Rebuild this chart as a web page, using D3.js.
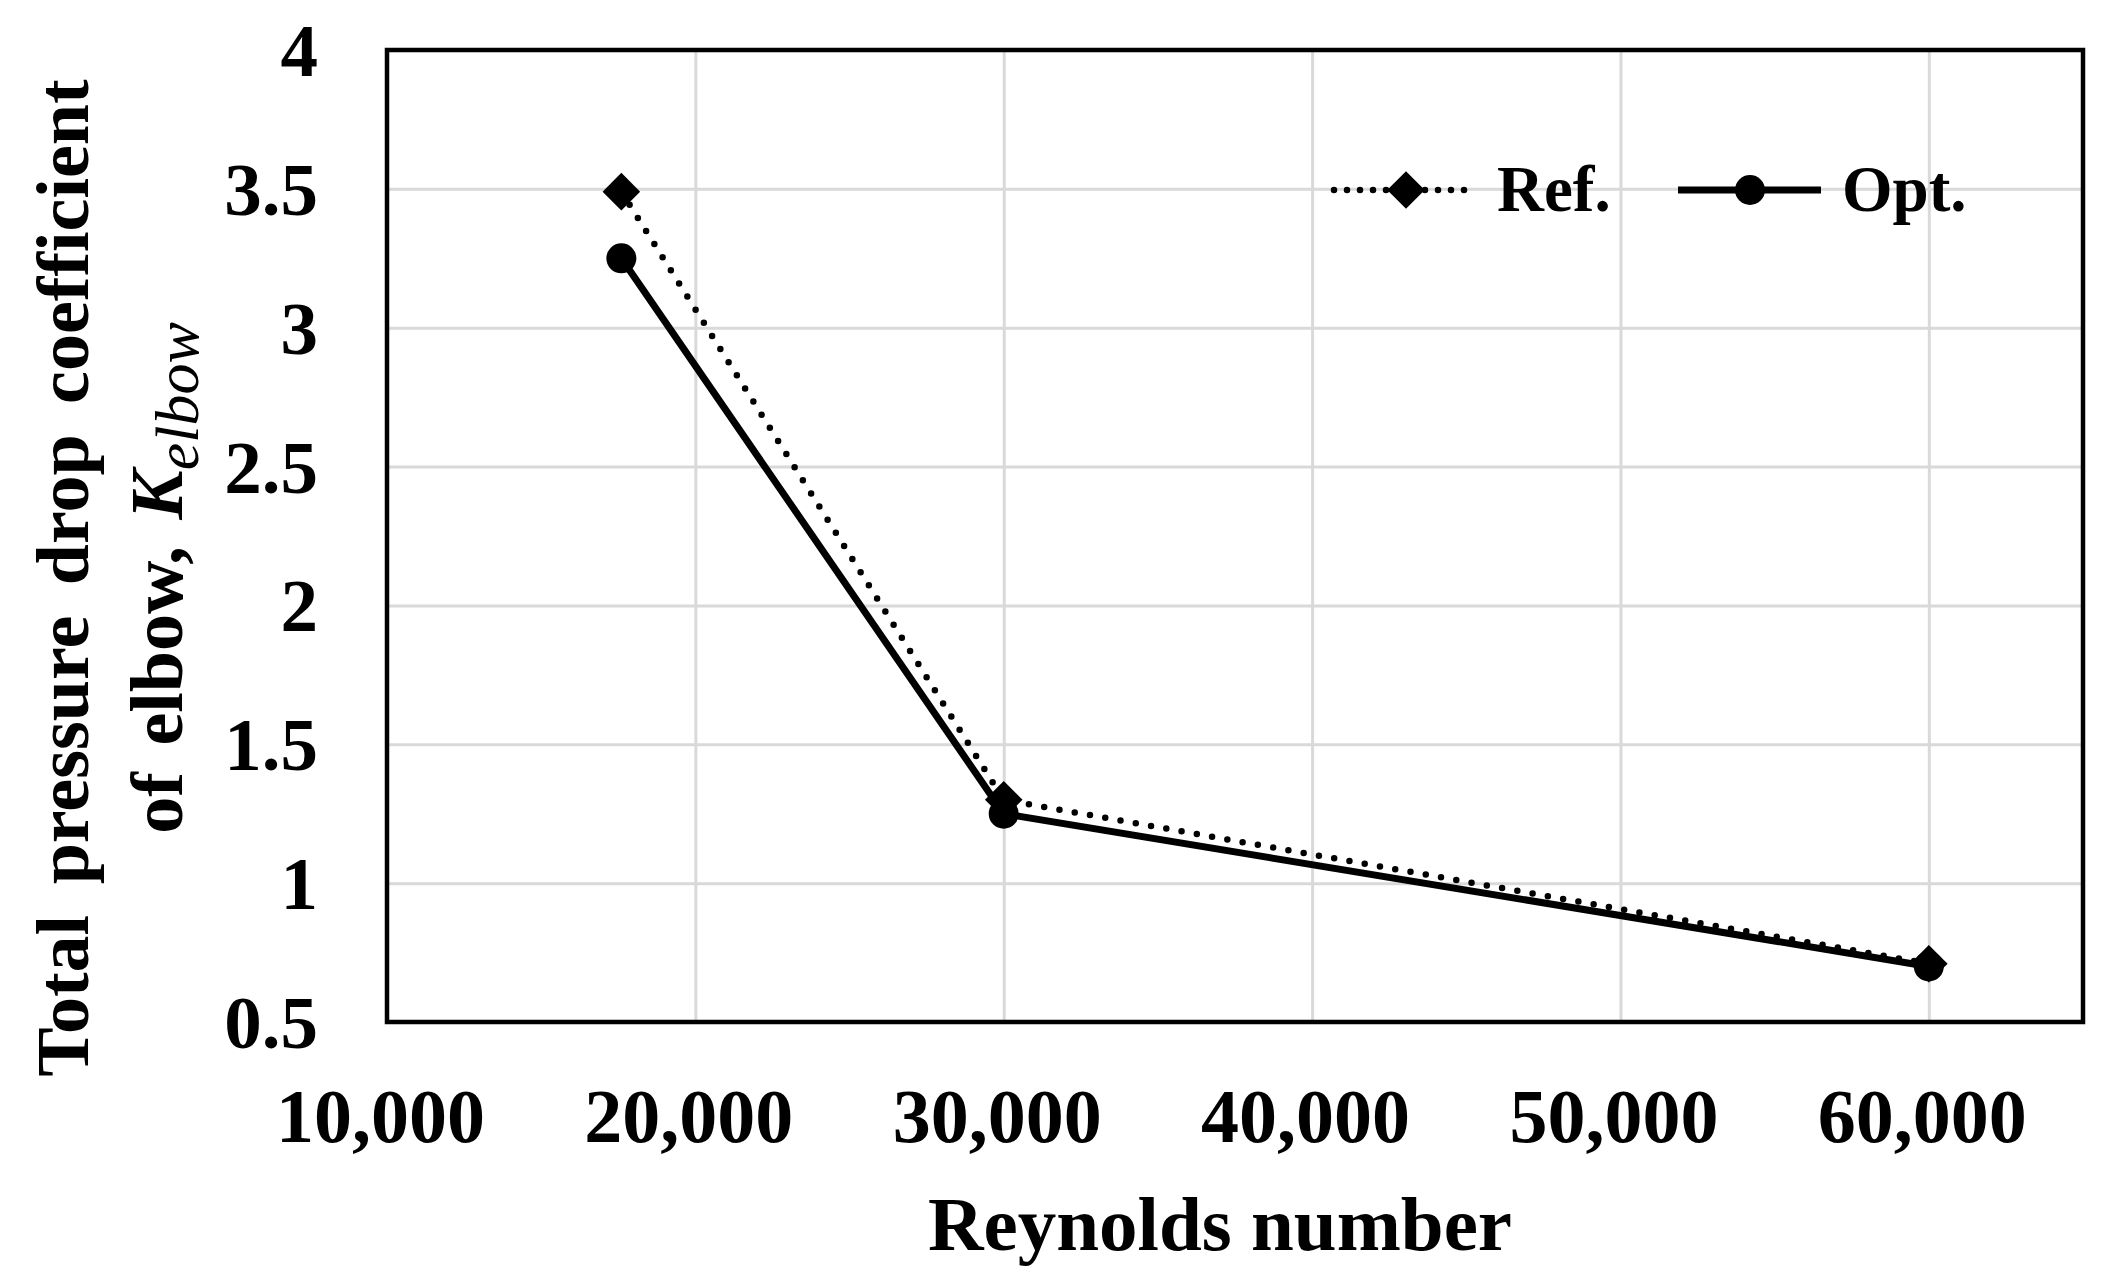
<!DOCTYPE html>
<html>
<head>
<meta charset="utf-8">
<script src="https://cdn.jsdelivr.net/npm/d3@7"></script>
<style>
  html, body { margin: 0; padding: 0; background: #fff; }
  svg text { font-family: "Times New Roman", "Liberation Serif", serif; font-weight: bold; fill: #000; }
</style>
</head>
<body>
<div id="chart"></div>
<script>
// values
const reynolds = [17600, 30000, 60000]
const kRef = [3.49, 1.30, 0.71]
const kOpt = [3.25, 1.25, 0.70]
const xTicks = [10000, 20000, 30000, 40000, 50000, 60000]
const yTicks = [0.5, 1, 1.5, 2, 2.5, 3, 3.5, 4]
const seriesNames = ['Ref.', 'Opt.']

const width = 2102, height = 1277
const margin = { top: 50, right: 19, bottom: 255, left: 387 }
const plotW = width - margin.left - margin.right
const plotH = height - margin.top - margin.bottom

const svg = d3.select('#chart')
    .append('svg')
    .attr('width', width)
    .attr('height', height)

const x = d3.scaleLinear()
    .domain([10000, 65000])
    .range([margin.left, width - margin.right])

const y = d3.scaleLinear()
    .domain([0.5, 4])
    .range([height - margin.bottom, margin.top])

// gridlines
svg.append('g')
    .attr('transform', `translate(0,${height - margin.bottom})`)
    .call(d3.axisBottom(x).tickValues(xTicks.slice(1)).tickSize(-plotH).tickFormat(''))
    .call(g => g.select('.domain').remove())
    .call(g => g.selectAll('line').attr('stroke', '#d9d9d9').attr('stroke-width', 3))

svg.append('g')
    .attr('transform', `translate(${margin.left},0)`)
    .call(d3.axisLeft(y).tickValues(yTicks.slice(1, -1)).tickSize(-plotW).tickFormat(''))
    .call(g => g.select('.domain').remove())
    .call(g => g.selectAll('line').attr('stroke', '#d9d9d9').attr('stroke-width', 3))

// tick labels
svg.append('g')
    .attr('transform', `translate(-7,${height - margin.bottom})`)
    .call(d3.axisBottom(x).tickValues(xTicks).tickSize(0).tickPadding(120).tickFormat(d3.format(',')))
    .call(g => g.select('.domain').remove())
    .call(g => g.selectAll('text').attr('font-size', '76px').attr('dy', 0))

svg.append('g')
    .attr('transform', `translate(${margin.left},0)`)
    .call(d3.axisLeft(y).tickValues(yTicks).tickSize(0).tickPadding(69).tickFormat(d => d))
    .call(g => g.select('.domain').remove())
    .call(g => g.selectAll('text').attr('font-size', '75px').attr('dy', '0.34em'))

// plot frame
svg.append('rect')
    .attr('x', margin.left)
    .attr('y', margin.top)
    .attr('width', plotW)
    .attr('height', plotH)
    .attr('fill', 'none')
    .attr('stroke', '#000')
    .attr('stroke-width', 4.5)

const line = d3.line()
    .x(d => x(d[0]))
    .y(d => y(d[1]))

const refData = d3.zip(reynolds, kRef)
const optData = d3.zip(reynolds, kOpt)

const diamond = d3.symbol().type(d3.symbolDiamond2).size(900)

svg.append('path')
    .datum(refData)
    .attr('d', line)
    .attr('fill', 'none')
    .attr('stroke', '#000')
    .attr('stroke-width', 6.5)
    .attr('stroke-linecap', 'round')
    .attr('stroke-dasharray', '0 15.5')

svg.append('g')
    .selectAll('path')
    .data(refData)
    .join('path')
    .attr('transform', d => `translate(${x(d[0])},${y(d[1])})`)
    .attr('d', diamond)
    .attr('fill', '#000')

svg.append('path')
    .datum(optData)
    .attr('d', line)
    .attr('fill', 'none')
    .attr('stroke', '#000')
    .attr('stroke-width', 7)

svg.append('g')
    .selectAll('circle')
    .data(optData)
    .join('circle')
    .attr('cx', d => x(d[0]))
    .attr('cy', d => y(d[1]))
    .attr('r', 15)
    .attr('fill', '#000')

// legend
const legend = svg.append('g').attr('transform', 'translate(0,190)')
legend.append('line')
    .attr('x1', 1334).attr('x2', 1470).attr('y1', 0).attr('y2', 0)
    .attr('stroke', '#000').attr('stroke-width', 6.5)
    .attr('stroke-linecap', 'round').attr('stroke-dasharray', '0 13')
legend.append('path')
    .attr('transform', 'translate(1406,0)')
    .attr('d', diamond)
legend.append('text')
    .attr('x', 1497).attr('y', 21)
    .attr('font-size', '65px')
    .text(seriesNames[0])

legend.append('line')
    .attr('x1', 1678).attr('x2', 1821).attr('y1', 0).attr('y2', 0)
    .attr('stroke', '#000').attr('stroke-width', 7)
legend.append('circle')
    .attr('cx', 1750).attr('cy', 0).attr('r', 15)
legend.append('text')
    .attr('x', 1842).attr('y', 21)
    .attr('font-size', '65px')
    .text(seriesNames[1])

// axis titles
svg.append('text')
    .attr('x', 1220)
    .attr('y', 1250)
    .attr('text-anchor', 'middle')
    .attr('font-size', '77px')
    .text('Reynolds number')

const yTitle = svg.append('g').attr('transform', 'translate(0,578) rotate(-90)')
yTitle.append('text')
    .attr('x', 0).attr('y', 88)
    .attr('text-anchor', 'middle')
    .attr('font-size', '74px')
    .attr('word-spacing', '12px')
    .text('Total pressure drop coefficient')

const line2 = yTitle.append('text')
    .attr('x', 0).attr('y', 182)
    .attr('text-anchor', 'middle')
    .attr('font-size', '74px')
    .attr('word-spacing', '8px')
line2.append('tspan').text('of elbow, ')
line2.append('tspan').attr('font-style', 'italic').text('K')
line2.append('tspan')
    .attr('font-style', 'italic')
    .attr('font-weight', 'normal')
    .attr('font-size', '62px')
    .attr('dy', 16)
    .text('elbow')
</script>
</body>
</html>
